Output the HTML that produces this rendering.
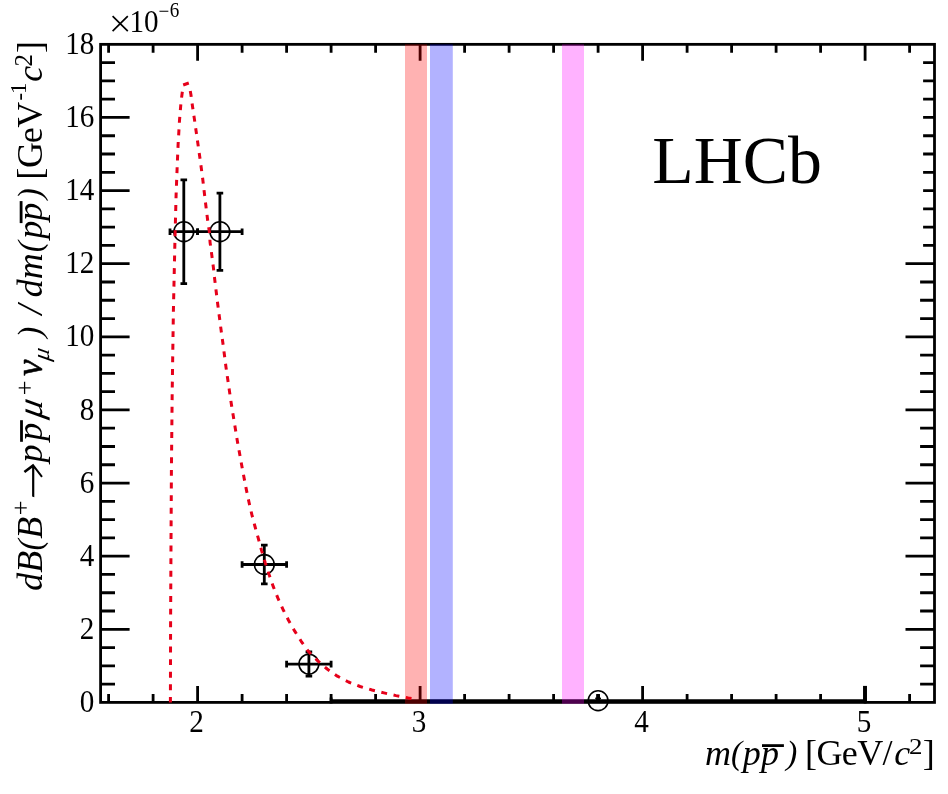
<!DOCTYPE html>
<html><head><meta charset="utf-8"><title>LHCb</title>
<style>html,body{margin:0;padding:0;background:#fff;}body{width:948px;height:794px;position:relative;overflow:hidden;font-family:"Liberation Serif",serif;}</style>
</head><body>
<svg width="948" height="794" viewBox="0 0 948 794" style="position:absolute;left:0;top:0;will-change:transform">
<rect x="0" y="0" width="948" height="794" fill="#fff"/>
<g stroke="#000" stroke-width="2.8" fill="none"><path d="M170.0 231.7 H197.6 M170.0 228.4 V235.0 M197.6 228.4 V235.0"/><path d="M183.8 179.8 V283.6 M180.5 179.8 H187.1 M180.5 283.6 H187.1"/><path d="M197.6 231.7 H242.1 M197.6 228.4 V235.0 M242.1 228.4 V235.0"/><path d="M219.9 193.1 V270.3 M216.6 193.1 H223.2 M216.6 270.3 H223.2"/><path d="M242.1 564.5 H286.6 M242.1 561.2 V567.8 M286.6 561.2 V567.8"/><path d="M264.3 545.1 V583.9 M261.0 545.1 H267.6 M261.0 583.9 H267.6"/><path d="M286.6 664.1 H331.1 M286.6 660.8 V667.4 M331.1 660.8 V667.4"/><path d="M308.9 652.0 V676.2 M305.6 652.0 H312.2 M305.6 676.2 H312.2"/><path d="M331.1 700.7 H865.1 M331.1 697.4 V703.4 M865.1 697.4 V703.4"/><path d="M598.1 694.1 V700 " stroke-width="3.8"/><path d="M595.2 698.4 H601.0" stroke-width="1.6"/></g>
<g stroke="#000" stroke-width="1.6" fill="none"><circle cx="183.8" cy="231.7" r="9.9"/><circle cx="219.9" cy="231.7" r="9.9"/><circle cx="264.3" cy="564.5" r="9.9"/><circle cx="308.9" cy="664.1" r="9.9"/><circle cx="598.1" cy="700.7" r="9.9"/></g>
<rect x="100.60" y="44.35" width="833.90" height="658.05" fill="none" stroke="#000" stroke-width="2.8"/>
<path d="M108.60 702.40 v-8.4 M108.60 44.35 v8.4 M153.10 702.40 v-8.4 M153.10 44.35 v8.4 M197.60 702.40 v-16.5 M197.60 44.35 v16.5 M242.10 702.40 v-8.4 M242.10 44.35 v8.4 M286.60 702.40 v-8.4 M286.60 44.35 v8.4 M331.10 702.40 v-8.4 M331.10 44.35 v8.4 M375.60 702.40 v-8.4 M375.60 44.35 v8.4 M420.10 702.40 v-16.5 M420.10 44.35 v16.5 M464.60 702.40 v-8.4 M464.60 44.35 v8.4 M509.10 702.40 v-8.4 M509.10 44.35 v8.4 M553.60 702.40 v-8.4 M553.60 44.35 v8.4 M598.10 702.40 v-8.4 M598.10 44.35 v8.4 M642.60 702.40 v-16.5 M642.60 44.35 v16.5 M687.10 702.40 v-8.4 M687.10 44.35 v8.4 M731.60 702.40 v-8.4 M731.60 44.35 v8.4 M776.10 702.40 v-8.4 M776.10 44.35 v8.4 M820.60 702.40 v-8.4 M820.60 44.35 v8.4 M865.10 702.40 v-16.5 M865.10 44.35 v16.5 M909.60 702.40 v-8.4 M909.60 44.35 v8.4 M100.60 684.12 h14.4 M934.50 684.12 h-14.4 M100.60 665.84 h14.4 M934.50 665.84 h-14.4 M100.60 647.56 h14.4 M934.50 647.56 h-14.4 M100.60 629.28 h29.0 M934.50 629.28 h-29.0 M100.60 611.00 h14.4 M934.50 611.00 h-14.4 M100.60 592.73 h14.4 M934.50 592.73 h-14.4 M100.60 574.45 h14.4 M934.50 574.45 h-14.4 M100.60 556.17 h29.0 M934.50 556.17 h-29.0 M100.60 537.89 h14.4 M934.50 537.89 h-14.4 M100.60 519.61 h14.4 M934.50 519.61 h-14.4 M100.60 501.33 h14.4 M934.50 501.33 h-14.4 M100.60 483.05 h29.0 M934.50 483.05 h-29.0 M100.60 464.77 h14.4 M934.50 464.77 h-14.4 M100.60 446.49 h14.4 M934.50 446.49 h-14.4 M100.60 428.21 h14.4 M934.50 428.21 h-14.4 M100.60 409.93 h29.0 M934.50 409.93 h-29.0 M100.60 391.65 h14.4 M934.50 391.65 h-14.4 M100.60 373.38 h14.4 M934.50 373.38 h-14.4 M100.60 355.10 h14.4 M934.50 355.10 h-14.4 M100.60 336.82 h29.0 M934.50 336.82 h-29.0 M100.60 318.54 h14.4 M934.50 318.54 h-14.4 M100.60 300.26 h14.4 M934.50 300.26 h-14.4 M100.60 281.98 h14.4 M934.50 281.98 h-14.4 M100.60 263.70 h29.0 M934.50 263.70 h-29.0 M100.60 245.42 h14.4 M934.50 245.42 h-14.4 M100.60 227.14 h14.4 M934.50 227.14 h-14.4 M100.60 208.86 h14.4 M934.50 208.86 h-14.4 M100.60 190.58 h29.0 M934.50 190.58 h-29.0 M100.60 172.30 h14.4 M934.50 172.30 h-14.4 M100.60 154.02 h14.4 M934.50 154.02 h-14.4 M100.60 135.75 h14.4 M934.50 135.75 h-14.4 M100.60 117.47 h29.0 M934.50 117.47 h-29.0 M100.60 99.19 h14.4 M934.50 99.19 h-14.4 M100.60 80.91 h14.4 M934.50 80.91 h-14.4 M100.60 62.63 h14.4 M934.50 62.63 h-14.4" stroke="#000" stroke-width="2.8" fill="none"/>
<path d="M865.00 702.40 v-16.5" stroke="#000" stroke-width="3.9" fill="none"/>
<rect x="640" y="61" width="283.1" height="193" fill="#fff"/>
<g fill="none" stroke="#e6001a" stroke-width="3" stroke-linejoin="round"><path d="M170.4 702.4 L170.6 620.0 L171.0 544.5 L171.4 472.0 L172.2 391.3 L173.4 310.6 L175.0 238.0 L176.1 194.9 L177.1 168.7 L178.1 144.6 L179.5 120.4 L181.0 102.2 L182.3 92.0 L183.0 87.0" stroke-dasharray="5.9 6.715" stroke-dashoffset="0.485"/><path d="M183.2 85.0 L188.8 83.0"/><path d="M189.0 86.2 L189.8 88.5 L190.9 94.5 L192.2 104.3 L194.3 118.4 L196.3 132.5 L198.3 146.6 L200.3 160.7 L202.7 178.8 L205.3 201.0 L208.0 223.1 L209.3 231.2 L210.1 242.6 L211.8 255.1 L213.4 267.6 L214.8 280.1 L216.3 292.5 L217.8 304.8 L219.4 317.0 L221.0 329.4 L222.7 341.7 L224.3 354.0 L225.9 366.6 L227.7 379.0 L229.5 391.4 L231.3 403.8 L233.3 416.1 L235.3 428.4 L237.3 440.7 L239.5 453.0 L241.7 465.3 L244.0 477.5 L246.4 489.9 L249.0 502.2 L251.8 514.4 L255.0 526.5 L258.3 538.4 L261.6 550.6 L265.2 562.6 L269.1 574.6 L273.2 586.4 L277.8 597.9 L282.9 609.2 L288.5 620.2 L294.6 630.9 L301.2 641.3 L308.4 651.4 L317.5 660.6 L327.2 669.0 L337.4 676.2 L348.5 682.0 L360.1 686.5 L372.0 690.0 L383.9 692.9 L396.0 695.6 L408.3 697.9 L411.5 698.4" stroke-dasharray="5.9 6.6" stroke-dashoffset="7.45"/></g>
<rect x="405" y="44.35" width="22" height="659.45" fill="rgb(255,0,0)" fill-opacity="0.3"/>
<rect x="430" y="44.35" width="22.8" height="659.45" fill="rgb(0,0,255)" fill-opacity="0.3"/>
<rect x="562" y="44.35" width="22" height="659.45" fill="rgb(255,0,255)" fill-opacity="0.3"/>
<g font-family="Liberation Serif, serif" font-size="32.0" fill="#000"><text transform="translate(94.3,712.0) scale(0.91,1)" text-anchor="end">0</text><text transform="translate(94.3,638.9) scale(0.91,1)" text-anchor="end">2</text><text transform="translate(94.3,565.8) scale(0.91,1)" text-anchor="end">4</text><text transform="translate(94.3,492.7) scale(0.91,1)" text-anchor="end">6</text><text transform="translate(94.3,419.5) scale(0.91,1)" text-anchor="end">8</text><text transform="translate(94.3,346.4) scale(0.91,1)" text-anchor="end">10</text><text transform="translate(94.3,273.3) scale(0.91,1)" text-anchor="end">12</text><text transform="translate(94.3,200.2) scale(0.91,1)" text-anchor="end">14</text><text transform="translate(94.3,127.1) scale(0.91,1)" text-anchor="end">16</text><text transform="translate(94.3,54.0) scale(0.91,1)" text-anchor="end">18</text><text transform="translate(196.5,731.9) scale(0.91,1)" text-anchor="middle">2</text><text transform="translate(419.0,731.9) scale(0.91,1)" text-anchor="middle">3</text><text transform="translate(641.5,731.9) scale(0.91,1)" text-anchor="middle">4</text><text transform="translate(864.0,731.9) scale(0.91,1)" text-anchor="middle">5</text></g>
<path d="M112.6 16.2 L127.8 31.2 M127.8 16.2 L112.6 31.2" stroke="#000" stroke-width="1.7" fill="none"/>
<g font-family="Liberation Serif, serif" fill="#000"><text transform="translate(129.4,32.3) scale(0.91,1)" font-size="32">10</text><text transform="translate(158.4,18.4) scale(0.91,1)" font-size="21">−</text><text transform="translate(169.7,16.9) scale(0.91,1)" font-size="21">6</text></g>
<text font-family="Liberation Serif, serif" font-size="67.8" x="652.3" y="182.7">LHCb</text>
<g transform="translate(0,765)" font-family="Liberation Serif, serif" fill="#000"><text x="704.9" y="0.0" font-size="36" font-style="italic">m</text><text x="730.9" y="-1.2" font-size="33" font-style="italic">(</text><text x="742.7" y="0.0" font-size="36" font-style="italic">p</text><text x="761.0" y="0.0" font-size="36" font-style="italic">p</text><text x="786.2" y="-1.2" font-size="33" font-style="italic">)</text><text x="805.0" y="0.0" font-size="36" letter-spacing="-0.6">[GeV/</text><text x="894.2" y="0.0" font-size="36" font-style="italic">c</text><text transform="translate(908.9,-11.0) scale(1.2,1)" font-size="22.5">2</text><text x="922.8" y="0.0" font-size="36">]</text><rect x="762" y="-20.8" width="21.9" height="2.8"/></g>
<g transform="translate(42,591) rotate(-90)" font-family="Liberation Serif, serif" fill="#000"><text x="0.3" y="0.0" font-size="36" font-style="italic">dB</text><text x="40.4" y="-1.2" font-size="33" font-style="italic">(</text><text x="52.3" y="0.0" font-size="36" font-style="italic">B</text><text x="75.7" y="-12.6" font-size="26">+</text><g transform="translate(0,-8.8) skewX(-15.6)"><path d="M94.1 0 H125.2 M116.6 -8.8 L125.6 0 L116.6 8.8" fill="none" stroke="#000" stroke-width="2.2" stroke-linejoin="miter"/></g><text x="128.6" y="0.0" font-size="36" font-style="italic">p</text><text x="150.2" y="0.0" font-size="36" font-style="italic">p</text><rect x="149.2" y="-21.9" width="21.6" height="2.8"/><g transform="translate(172.0,0) skewX(-10.5)"><text x="0" y="0" font-size="36" font-style="italic">μ</text></g><text x="195.7" y="-8.8" font-size="26">+</text><text x="215.0" y="0" font-size="37" font-style="italic" stroke="#000" stroke-width="0.5">ν</text><g transform="translate(229.7,6.6) skewX(-10.5)"><text x="0" y="0" font-size="24" font-style="italic">μ</text></g><text x="253.2" y="-1.2" font-size="33" font-style="italic">)</text><text x="276.6" y="0.0" font-size="36" font-style="italic">/</text><text x="293.8" y="0.0" font-size="36" font-style="italic">dm</text><text x="338.7" y="-1.2" font-size="33" font-style="italic">(</text><text x="352.3" y="0.0" font-size="36" font-style="italic">p</text><text x="370.3" y="0.0" font-size="36" font-style="italic">p</text><rect x="367.9" y="-22.3" width="22" height="2.8"/><text x="391.8" y="-1.2" font-size="33" font-style="italic">)</text><text x="411.2" y="0.0" font-size="36">[</text><text x="422.9" y="0.0" font-size="36">G</text><text x="447.8" y="0.0" font-size="36">e</text><text x="463.2" y="0.0" font-size="36">V</text><text x="490.5" y="-15.0" font-size="23">-</text><text x="497.0" y="-15.6" font-size="23">1</text><text x="509.3" y="0.0" font-size="36" font-style="italic">c</text><text x="524.4" y="-9.8" font-size="25">2</text><text x="537.9" y="0.0" font-size="36">]</text></g>
</svg>
</body></html>
